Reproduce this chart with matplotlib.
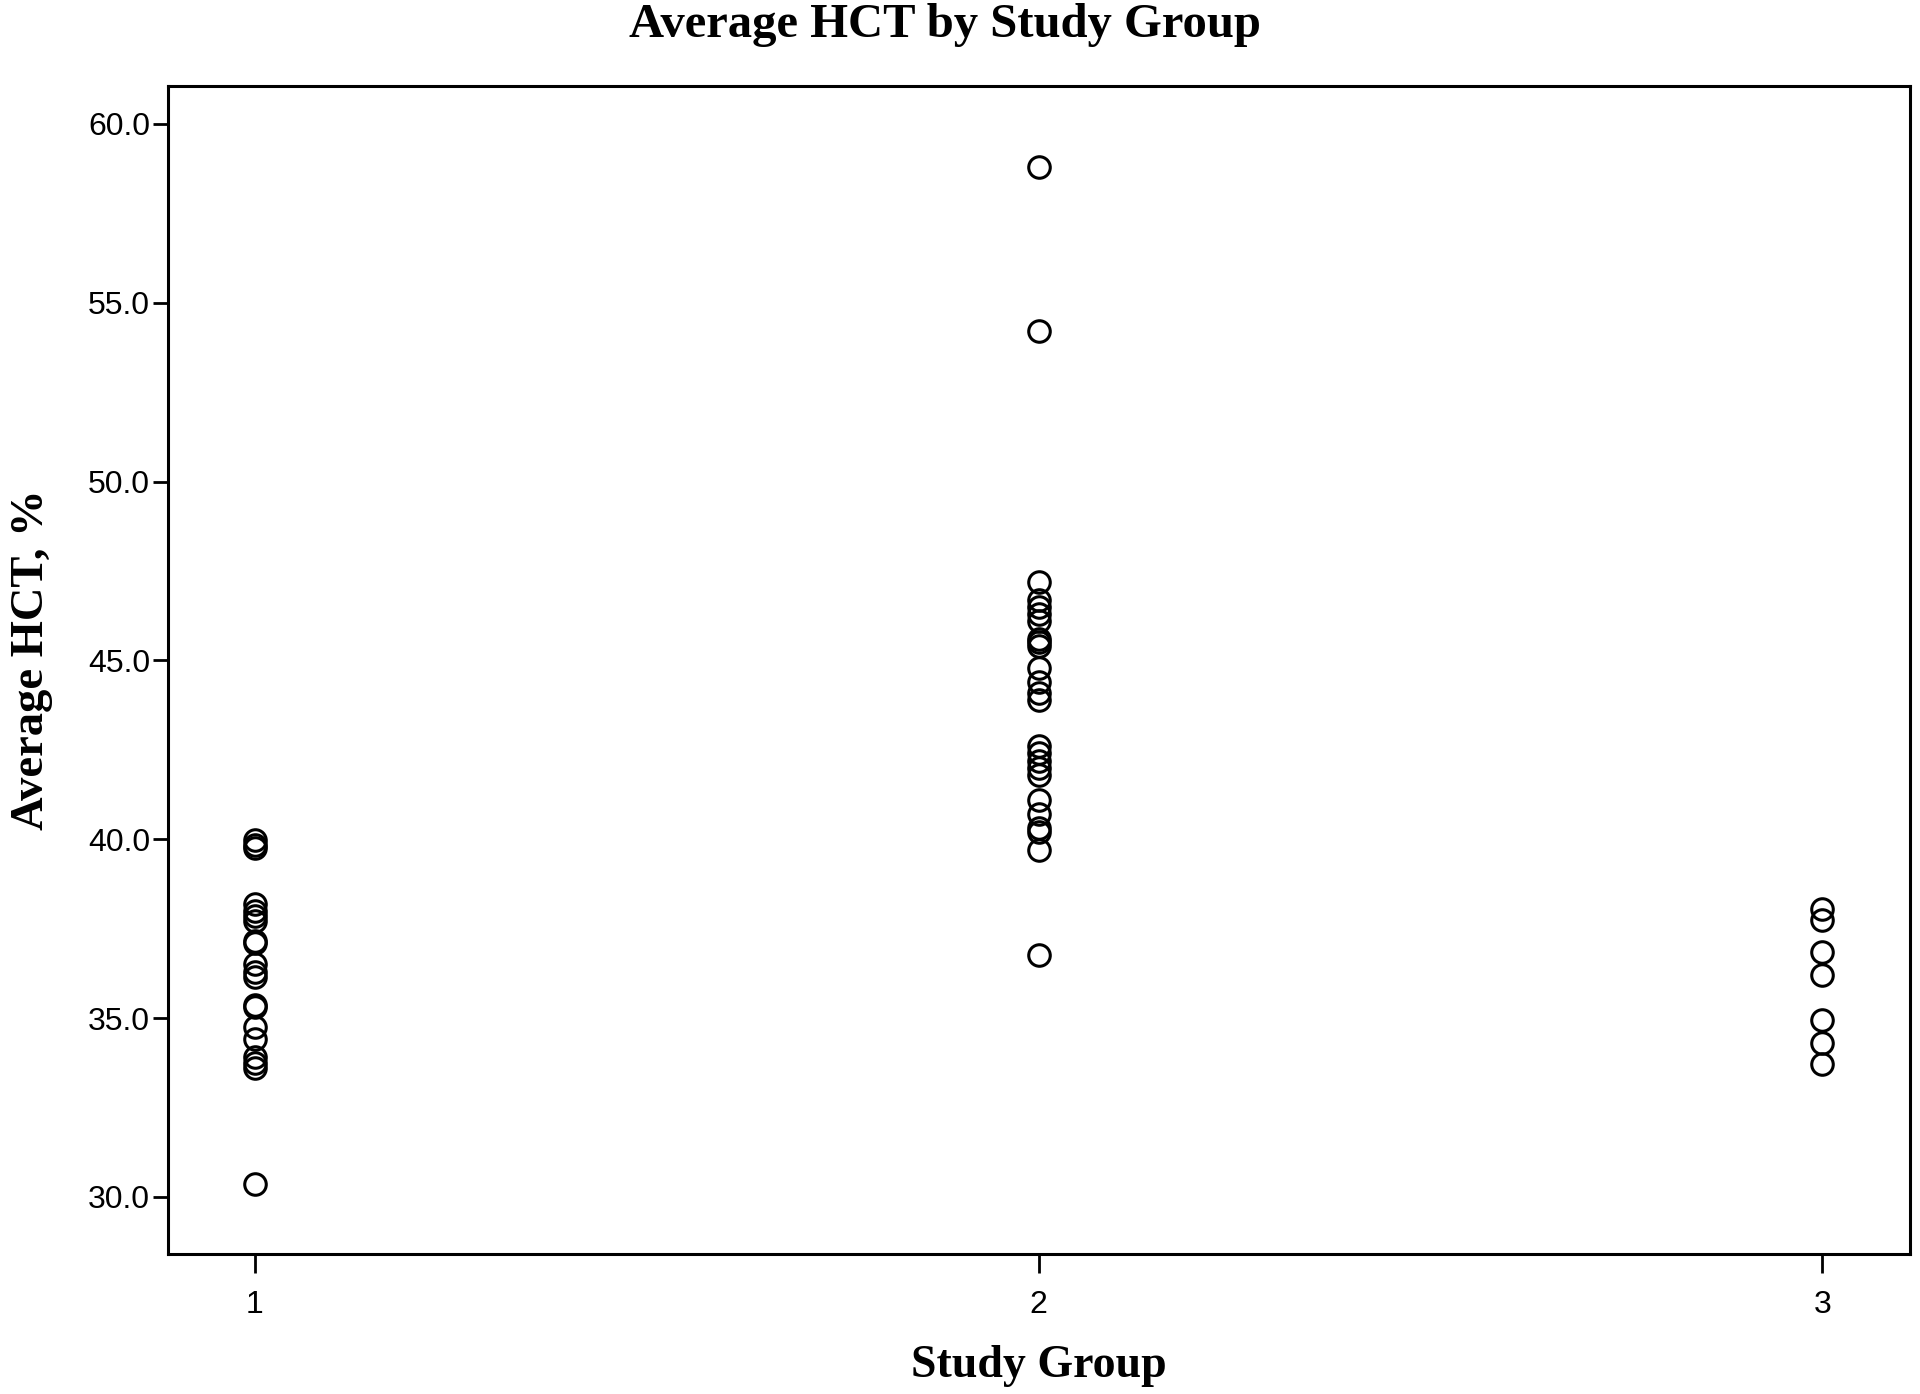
import numpy as np
import matplotlib.pyplot as plt

# Average HCT values, per study group
group1 = [39.97, 39.85, 39.75, 38.2, 38.0, 37.85, 37.7, 37.15, 37.1,
          36.5, 36.3, 36.15, 35.35, 35.3, 34.75, 34.4, 33.9, 33.75, 33.6, 30.35]
group2 = [58.8, 54.2, 47.2, 46.7, 46.5, 46.3, 46.1, 45.6, 45.5, 45.4,
          44.8, 44.4, 44.1, 43.9, 42.6, 42.4, 42.2, 42.0, 41.8,
          41.1, 40.7, 40.3, 40.2, 39.7, 36.75]
group3 = [38.05, 37.75, 36.85, 36.2, 34.95, 34.3, 33.7]

groups = [1, 2, 3]
yticks = [30.0, 35.0, 40.0, 45.0, 50.0, 55.0, 60.0]

fig = plt.figure(figsize=(19.2, 13.94), dpi=100)
ax = fig.add_axes([0.0875, 0.1004, 0.9073, 0.8379])

for g, vals in zip(groups, [group1, group2, group3]):
    ax.plot(np.full(len(vals), g), vals, linestyle='none', marker='o',
            markersize=15.5, markerfacecolor='none', markeredgecolor='black',
            markeredgewidth=2.2)

ax.set_xlim(0.889, 3.112)
ax.set_ylim(28.4, 61.06)
ax.set_xticks(groups)
ax.set_yticks(yticks)
ax.set_yticklabels([f'{v:.1f}' for v in yticks])

for s in ax.spines.values():
    s.set_linewidth(2.2)
ax.tick_params(axis='both', direction='out', width=2, labelsize=23, colors='black')
ax.tick_params(axis='y', length=11, pad=2)
ax.tick_params(axis='x', length=14, pad=12)
for lab in ax.get_xticklabels() + ax.get_yticklabels():
    lab.set_family('Liberation Sans')

serif = dict(family='Liberation Serif', weight='bold')
fig.text(0.4923, 0.982, 'Average HCT by Study Group', fontsize=35,
         ha='center', va='center', **serif)
ax.set_xlabel('Study Group', fontsize=33, labelpad=18, **serif)
ax.set_ylabel('Average HCT, %', fontsize=33.5, **serif)
ax.yaxis.set_label_coords(-0.066, 0.509)

fig.savefig('out.png', dpi=100)
